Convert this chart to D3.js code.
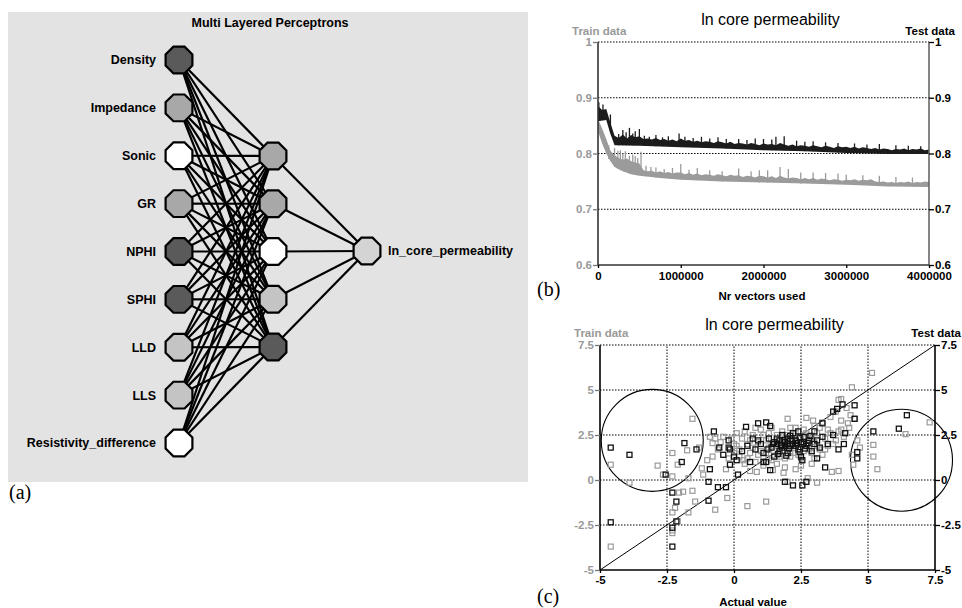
<!DOCTYPE html>
<html>
<head>
<meta charset="utf-8">
<script src="https://cdn.jsdelivr.net/npm/d3@7"></script>
<style>
  body { margin: 0; background: #fff; }
  svg { display: block; font-family: "Liberation Sans", Arial, sans-serif; }
</style>
</head>
<body>
<div id="fig"></div>
<script>
// ---------- data: network (a) ----------
const inputNodes = ['Density', 'Impedance', 'Sonic', 'GR', 'NPHI', 'SPHI', 'LLD', 'LLS', 'Resistivity_difference'];
const inputShades = ['dark', 'mid', 'white', 'mid', 'dark', 'dark', 'light', 'light', 'white'];
const hiddenNodes = ['h1', 'h2', 'h3', 'h4', 'h5'];
const hiddenShades = ['mid', 'mid', 'white', 'light', 'dark'];
const outputNodes = ['ln_core_permeability'];
const outputShades = ['pale'];

// ---------- data: training curve (b), x in thousands of vectors ----------
const vectorsK = d3.range(0, 4001, 50);
const testUpper = [.885, .878, .880, .855, .832, .828, .834, .827, .833, .829, .831, .826, .827, .825, .828, .824, .826, .823, .825, .822,
  .827, .823, .824, .821, .823, .820, .822, .821, .819, .822, .820, .818, .821, .817, .819, .818, .816, .819, .817, .815,
  .818, .816, .817, .815, .819, .816, .814, .816, .813, .815, .814, .812, .815, .813, .811, .814, .812, .810, .813, .811,
  .812, .810, .812, .809, .811, .810, .808, .810, .807, .809, .808, .806, .808, .807, .809, .806, .808, .807, .809, .806, .807];
const testLower = [[0, .858], [100, .860], [150, .835], [200, .815], [500, .814], [1000, .811], [1500, .809], [2000, .806],
  [2500, .804], [3000, .801], [3500, .799], [4000, .799]];
const trainUpper = [.862, .845, .826, .805, .797, .792, .789, .791, .786, .784, .782, .770, .768, .769, .766, .768, .765, .767, .764, .766,
  .766, .763, .765, .762, .764, .761, .763, .762, .760, .763, .761, .759, .762, .760, .761, .758, .760, .759, .757, .760,
  .759, .757, .759, .756, .760, .757, .755, .757, .756, .754, .756, .754, .756, .753, .755, .754, .752, .754, .753, .751,
  .753, .752, .754, .751, .753, .752, .754, .750, .749, .750, .748, .749, .747, .749, .748, .750, .747, .749, .748, .750, .749];
const trainLower = [[0, .840], [50, .818], [100, .800], [150, .786], [200, .776], [300, .768], [400, .763], [500, .760],
  [750, .756], [1000, .753], [1500, .750], [2000, .748], [2500, .746], [3000, .744], [3300, .742], [3500, .741], [4000, .740]];
const testSpikes = [[10, .892, .86], [60, .888, .86], [150, .870, .84], [250, .835, .815], [300, .842, .815], [340, .838, .815],
  [380, .846, .815], [420, .836, .815], [450, .840, .815], [500, .844, .815], [560, .832, .814], [620, .830, .814],
  [700, .833, .813], [780, .829, .813], [850, .831, .813], [980, .836, .812], [1050, .830, .812], [1150, .828, .811],
  [1250, .830, .811], [1350, .827, .810], [1450, .829, .810], [1550, .826, .809], [1700, .826, .808], [1800, .824, .808],
  [1900, .827, .807], [2000, .826, .806], [2100, .825, .806], [2150, .830, .806], [2250, .831, .806], [2400, .823, .805],
  [2500, .821, .804], [2600, .822, .804], [2750, .820, .803], [2900, .819, .802], [3100, .818, .802], [3250, .816, .801],
  [3400, .817, .800], [3600, .815, .800], [3750, .814, .800], [3900, .813, .800]];
const trainSpikes = [[130, .815, .79], [170, .800, .785], [200, .810, .777], [240, .805, .772], [270, .806, .770], [300, .800, .768],
  [330, .804, .767], [380, .796, .764], [420, .798, .763], [450, .795, .762], [480, .792, .761], [520, .803, .760],
  [580, .778, .759], [640, .776, .758], [700, .775, .757], [800, .772, .756], [900, .774, .755], [1000, .781, .754],
  [1100, .771, .753], [1200, .774, .752], [1350, .770, .751], [1500, .768, .750], [1700, .773, .750], [1850, .768, .749],
  [1950, .770, .748], [2050, .770, .748], [2200, .776, .748], [2300, .772, .747], [2450, .766, .746], [2600, .766, .746],
  [2750, .765, .745], [2900, .764, .745], [3000, .762, .745], [3200, .761, .744], [3400, .760, .743], [3600, .758, .742],
  [3800, .757, .741]];
const bTicksY = [0.6, 0.7, 0.8, 0.9, 1];
const bTicksX = [0, 1000000, 2000000, 3000000, 4000000];

// ---------- data: predicted vs actual (c) ----------
const trainPoints = [[-4.6, 0.85], [-4.6, -3.7], [-3.9, -0.15], [-2.85, 0.8], [-2.65, 0.3], [-2.3, 0.2], [-2.1, 0.85], [-2.2, -1.55],
  [-2.3, -1.8], [-2.3, -2.8], [-2.3, -2.95], [-2.1, -2.3], [-2.05, -0.7], [-1.9, -0.65], [-1.55, -0.6], [-1.7, -1.8], [-1.45, -1.2],
  [-1.7, 0.1], [-1.2, 0.65], [-1.15, 0.3], [-0.7, -1.65], [-0.25, -1.0], [0.5, -1.45], [1.2, -1.2], [-1.55, 3.4], [-2.3, 1.5],
  [-1.75, 1.65], [-0.8, 2.05], [-0.8, 1.3], [0.0, 1.5], [0.35, 1.1], [0.85, 0.45], [1.45, 0.55], [1.85, 0.4], [2.0, -0.1],
  [2.75, 0.1], [3.1, -0.15], [3.65, 0.45], [3.9, 0.5], [5.35, 0.6], [5.2, 1.3], [4.45, 0.85], [5.2, 1.95], [6.4, 2.55],
  [7.3, 3.2], [4.4, 5.15], [5.15, 5.95], [4.0, 4.5], [3.9, 4.45], [4.35, 3.6], [4.25, 3.15], [2.0, 3.4], [2.7, 3.45], [2.95, 3.3],
  [-1.0, 1.1], [-0.6, 1.7], [-0.4, 2.4], [-0.2, 1.2], [0.0, 2.0], [0.1, 2.6], [0.2, 1.7], [0.3, 2.3], [0.4, 0.9], [0.5, 2.0],
  [0.6, 1.5], [0.7, 2.5], [0.8, 1.0], [0.9, 2.1], [1.0, 1.6], [1.0, 2.8], [1.1, 1.3], [1.2, 2.2], [1.3, 1.8], [1.3, 2.6],
  [1.4, 1.1], [1.5, 2.0], [1.6, 2.5], [1.6, 1.4], [1.7, 1.9], [1.8, 2.7], [1.9, 1.2], [1.9, 2.3], [2.0, 1.8], [2.1, 2.9],
  [2.2, 1.5], [2.2, 2.1], [2.3, 2.6], [2.4, 1.7], [2.5, 2.3], [2.5, 1.2], [2.6, 2.8], [2.7, 1.9], [2.8, 2.4], [2.9, 1.5],
  [3.0, 3.0], [3.0, 2.1], [3.1, 2.6], [3.2, 1.7], [3.3, 3.2], [3.4, 2.3], [3.5, 2.8], [3.6, 3.5], [3.7, 2.0], [3.8, 3.8],
  [3.9, 2.7], [4.0, 3.3], [4.1, 2.4], [4.2, 4.0], [4.3, 2.9], [4.5, 3.4], [4.6, 2.2], [4.7, 1.8], [1.1, 0.8], [1.6, 0.9],
  [2.3, 0.6], [2.9, 0.9], [3.3, 1.4], [0.6, 0.5], [-0.3, 0.6], [1.5, 1.6], [2.0, 2.0], [2.4, 2.0], [1.8, 1.6], [0.2, 1.3],
  [-0.5, 2.1], [-1.3, 1.8], [-0.9, 2.4], [2.6, 1.6], [3.5, 1.9], [4.4, 1.4], [0.7, 1.8], [1.2, 1.5], [2.8, 1.7], [2.1, 1.3],
  [0.1, 1.9], [0.4, 2.7], [0.6, 2.2], [0.8, 2.9], [0.9, 1.4], [1.1, 2.5], [1.3, 1.2], [1.4, 2.9], [1.6, 2.2], [1.7, 1.3],
  [1.8, 2.1], [2.0, 2.5], [2.1, 1.6], [2.3, 2.9], [2.4, 1.4], [2.6, 2.1], [2.7, 2.6], [2.9, 2.3], [3.1, 1.9], [3.2, 2.9],
  [3.4, 1.7], [3.6, 2.6], [3.8, 2.2], [4.0, 2.8], [-0.7, 2.3], [-0.1, 2.3], [0.5, 1.2], [1.9, 0.7], [2.5, 0.8], [3.0, 1.2]];
const testPoints = [[-4.6, 1.8], [-3.9, 1.4], [-1.85, 2.05], [-1.4, 1.7], [-0.75, 2.7], [-0.55, 1.8], [-0.2, 2.2], [-0.15, 1.7],
  [0.45, 2.95], [0.9, 3.15], [1.2, 3.2], [1.35, 3.0], [3.3, 3.15], [3.7, 3.8], [3.85, 3.95], [4.05, 4.2], [4.5, 4.15], [4.5, 3.4],
  [4.15, 2.6], [5.2, 2.7], [6.15, 2.85], [6.45, 3.6], [4.6, 1.55], [4.6, 1.2], [-2.55, 0.3], [-2.3, -0.7], [-1.95, 1.0],
  [-2.15, -1.2], [-2.15, -2.3], [-2.3, -2.65], [-2.3, -3.7], [-4.6, -2.35], [-0.9, 0.6], [-0.95, -0.1], [-0.95, -1.15],
  [-0.6, -0.4], [-0.3, -0.4], [-0.15, 0.85], [0.15, 0.3], [1.1, 1.0], [1.35, 0.55], [1.9, -0.1], [2.2, -0.3], [2.55, -0.3],
  [2.7, -0.1], [3.4, 0.7], [2.55, 1.1], [3.1, 1.2], [0.3, 1.6], [0.5, 1.9], [0.8, 1.7], [1.0, 2.0], [1.1, 1.5], [1.3, 2.3],
  [1.4, 1.8], [1.5, 2.1], [1.6, 2.0], [1.7, 2.2], [1.7, 1.6], [1.8, 1.8], [1.8, 2.5], [1.9, 2.1], [2.0, 2.3], [2.0, 1.5],
  [2.1, 1.9], [2.2, 2.0], [2.2, 2.6], [2.3, 2.2], [2.4, 1.7], [2.4, 2.7], [2.5, 2.1], [2.6, 2.4], [2.7, 1.9], [2.8, 2.2],
  [2.9, 1.6], [3.0, 2.0], [3.2, 1.8], [3.5, 2.0], [3.7, 2.5], [3.9, 1.7], [4.1, 2.0], [0.7, 2.3], [-0.2, 1.8], [-0.4, 1.4],
  [0.1, 1.1], [1.2, 1.0], [2.5, 1.3], [1.5, 1.3], [0.0, 1.3], [0.6, 1.0], [3.3, 2.4], [3.0, 2.7], [2.0, 2.0], [1.9, 1.9],
  [2.3, 1.9], [2.6, 2.0], [1.6, 2.3], [1.75, 1.95], [1.85, 2.2], [2.05, 1.75], [2.15, 2.25], [2.35, 2.05], [2.45, 2.35],
  [2.65, 1.75], [2.75, 2.05], [1.45, 2.0], [1.25, 1.7], [0.9, 2.2], [2.1, 2.45], [2.85, 2.45], [3.1, 2.2], [1.95, 1.35],
  [2.45, 1.55], [1.65, 1.45]];
const idealLine = [[-5, -5], [7.5, 7.5]];
const outlierCircles = [[-3.05, 2.2], [6.25, 1.1]];
const cTicks = [-5, -2.5, 0, 2.5, 5, 7.5];

// ---------- svg ----------
const svg = d3.select('#fig').append('svg')
  .attr('width', 962)
  .attr('height', 608);

const shade = {dark: '#5a5a5a', mid: '#a8a8a8', light: '#c4c4c4', white: '#ffffff', pale: '#d4d4d4'};

// octagon shaped node
const octagon = function(r) {
  const pts = d3.range(8).map(k => {
    const a = (22.5 + 45 * k) * Math.PI / 180;
    return [r * Math.cos(a), r * Math.sin(a)];
  });
  return 'M' + pts.join('L') + 'Z';
};

// ---------- panel (a) ----------
const gA = svg.append('g');
gA.append('rect')
  .attr('x', 8).attr('y', 12)
  .attr('width', 520).attr('height', 470)
  .attr('fill', '#e3e3e3');

gA.append('text')
  .attr('x', 270).attr('y', 27)
  .attr('text-anchor', 'middle')
  .style('font-weight', 'bold')
  .style('font-size', '12.5px')
  .text('Multi Layered Perceptrons');

const layerX = d3.scalePoint().domain(['input', 'hidden', 'output']).range([179, 367]);
const inputY = d3.scalePoint().domain(inputNodes).range([60, 443]);
const hiddenY = d3.scalePoint().domain(hiddenNodes).range([156, 347]);
const outputY = d3.scalePoint().domain(outputNodes).range([251, 251]);

const links = [];
inputNodes.forEach(i => hiddenNodes.forEach(h => links.push([layerX('input'), inputY(i), layerX('hidden'), hiddenY(h)])));
hiddenNodes.forEach(h => outputNodes.forEach(o => links.push([layerX('hidden'), hiddenY(h), layerX('output'), outputY(o)])));

gA.selectAll('.link')
  .data(links)
  .enter()
  .append('line')
  .attr('x1', d => d[0]).attr('y1', d => d[1])
  .attr('x2', d => d[2]).attr('y2', d => d[3])
  .attr('stroke', '#000')
  .attr('stroke-width', 2.2);

const nodes = [].concat(
  inputNodes.map((n, i) => ({x: layerX('input'), y: inputY(n), fill: shade[inputShades[i]]})),
  hiddenNodes.map((n, i) => ({x: layerX('hidden'), y: hiddenY(n), fill: shade[hiddenShades[i]]})),
  outputNodes.map((n, i) => ({x: layerX('output'), y: outputY(n), fill: shade[outputShades[i]]}))
);

gA.selectAll('.node')
  .data(nodes)
  .enter()
  .append('path')
  .attr('transform', d => `translate(${d.x},${d.y})`)
  .attr('d', octagon(14.5))
  .attr('fill', d => d.fill)
  .attr('stroke', '#000')
  .attr('stroke-width', 2.2);

gA.selectAll('.inlabel')
  .data(inputNodes)
  .enter()
  .append('text')
  .attr('x', layerX('input') - 23)
  .attr('y', d => inputY(d))
  .attr('dy', '0.35em')
  .attr('text-anchor', 'end')
  .style('font-weight', 'bold')
  .style('font-size', '12.5px')
  .text(d => d);

gA.selectAll('.outlabel')
  .data(outputNodes)
  .enter()
  .append('text')
  .attr('x', layerX('output') + 21)
  .attr('y', d => outputY(d))
  .attr('dy', '0.35em')
  .style('font-weight', 'bold')
  .style('font-size', '12.5px')
  .text(d => d);

// panel letters
const letter = function(x, y, s) {
  svg.append('text')
    .attr('x', x).attr('y', y)
    .style('font-family', '"Liberation Serif", "Times New Roman", serif')
    .style('font-size', '20px')
    .text(s);
};
letter(9, 499, '(a)');
letter(537, 296, '(b)');
letter(537, 603, '(c)');

// shared axis styling
const styleAxis = function(g, color) {
  g.select('.domain').remove();
  g.selectAll('.tick line').attr('stroke', color === '#000' ? '#000' : '#777').attr('stroke-width', 1.3);
  g.selectAll('.tick text')
    .attr('fill', color)
    .style('font-family', '"Liberation Sans", Arial, sans-serif')
    .style('font-weight', 'bold')
    .style('font-size', '11.5px');
};

const panelHeader = function(g, left, right, titleY, subY, title) {
  g.append('text')
    .attr('x', (left + right) / 2 + 7).attr('y', titleY)
    .attr('text-anchor', 'middle')
    .style('font-size', '16px')
    .text(title);
  g.append('text')
    .attr('x', left - 26).attr('y', subY)
    .attr('fill', '#999')
    .style('font-weight', 'bold')
    .style('font-size', '11.5px')
    .text('Train data');
  g.append('text')
    .attr('x', right + 26).attr('y', subY)
    .attr('text-anchor', 'end')
    .style('font-weight', 'bold')
    .style('font-size', '11.5px')
    .text('Test data');
};

// ---------- panel (b) ----------
const gB = svg.append('g');
const xB = d3.scaleLinear().domain([0, 4000000]).range([598, 929]);
const yB = d3.scaleLinear().domain([0.6, 1]).range([265, 42]);

panelHeader(gB, 598, 929, 25, 35, 'ln core permeability');

gB.selectAll('.grid')
  .data(bTicksY.slice(1))
  .enter()
  .append('line')
  .attr('x1', xB(0)).attr('x2', xB(4000000))
  .attr('y1', d => yB(d)).attr('y2', d => yB(d))
  .attr('stroke', '#000')
  .attr('stroke-width', 1)
  .attr('stroke-dasharray', '1.5,1.5');

const band = function(upper, lower) {
  const pts = upper.map((v, i) => [vectorsK[i] * 1000, v])
    .concat(lower.slice().reverse().map(d => [d[0] * 1000, d[1]]));
  return d3.line().x(d => xB(d[0])).y(d => yB(d[1]))(pts) + 'Z';
};

gB.append('path')
  .attr('d', band(trainUpper, trainLower))
  .attr('fill', '#9b9b9b');
gB.selectAll('.tspike')
  .data(trainSpikes)
  .enter()
  .append('line')
  .attr('x1', d => xB(d[0] * 1000)).attr('x2', d => xB(d[0] * 1000))
  .attr('y1', d => yB(d[1])).attr('y2', d => yB(d[2]))
  .attr('stroke', '#9b9b9b')
  .attr('stroke-width', 1.3);

gB.append('path')
  .attr('d', band(testUpper, testLower))
  .attr('fill', '#1c1c1c');
gB.selectAll('.sspike')
  .data(testSpikes)
  .enter()
  .append('line')
  .attr('x1', d => xB(d[0] * 1000)).attr('x2', d => xB(d[0] * 1000))
  .attr('y1', d => yB(d[1])).attr('y2', d => yB(d[2]))
  .attr('stroke', '#1c1c1c')
  .attr('stroke-width', 1.3);

// frame lines
gB.append('line').attr('x1', xB(0)).attr('x2', xB(0)).attr('y1', yB(0.6)).attr('y2', yB(1))
  .attr('stroke', '#333').attr('stroke-width', 1.6);
gB.append('line').attr('x1', xB(4000000)).attr('x2', xB(4000000)).attr('y1', yB(0.6)).attr('y2', yB(1))
  .attr('stroke', '#666').attr('stroke-width', 1.6);
gB.append('line').attr('x1', xB(0)).attr('x2', xB(4000000)).attr('y1', yB(0.6)).attr('y2', yB(0.6))
  .attr('stroke', '#333').attr('stroke-width', 1.6);

gB.append('g')
  .attr('transform', `translate(${xB(0)},0)`)
  .call(d3.axisLeft(yB).tickValues(bTicksY).tickFormat(d => String(d)).tickSize(5).tickPadding(1))
  .call(g => styleAxis(g, '#999'));
gB.append('g')
  .attr('transform', `translate(${xB(4000000)},0)`)
  .call(d3.axisRight(yB).tickValues(bTicksY).tickFormat(d => String(d)).tickSize(5).tickPadding(1))
  .call(g => styleAxis(g, '#000'));
gB.append('g')
  .attr('transform', `translate(0,${yB(0.6)})`)
  .call(d3.axisBottom(xB).tickValues(bTicksX).tickFormat(d3.format('d')).tickSize(3).tickPadding(4))
  .call(g => styleAxis(g, '#000'));

gB.append('text')
  .attr('x', 762).attr('y', 300)
  .attr('text-anchor', 'middle')
  .style('font-weight', 'bold')
  .style('font-size', '11.5px')
  .text('Nr vectors used');

// ---------- panel (c) ----------
const gC = svg.append('g');
const xC = d3.scaleLinear().domain([-5, 7.5]).range([600, 935]);
const yC = d3.scaleLinear().domain([-5, 7.5]).range([570, 345]);

panelHeader(gC, 600, 935, 330, 337, 'ln core permeability');

gC.selectAll('.hgrid')
  .data(cTicks.slice(1))
  .enter()
  .append('line')
  .attr('x1', xC(-5)).attr('x2', xC(7.5))
  .attr('y1', d => yC(d)).attr('y2', d => yC(d))
  .attr('stroke', '#000')
  .attr('stroke-dasharray', '1.5,1.5');
gC.selectAll('.vgrid')
  .data(cTicks.slice(1, -1))
  .enter()
  .append('line')
  .attr('x1', d => xC(d)).attr('x2', d => xC(d))
  .attr('y1', yC(-5)).attr('y2', yC(7.5))
  .attr('stroke', '#000')
  .attr('stroke-dasharray', '1.5,1.5');

gC.append('path')
  .attr('d', d3.line().x(d => xC(d[0])).y(d => yC(d[1]))(idealLine))
  .attr('stroke', '#000')
  .attr('stroke-width', 1)
  .attr('fill', 'none');

gC.selectAll('.ring')
  .data(outlierCircles)
  .enter()
  .append('circle')
  .attr('cx', d => xC(d[0]))
  .attr('cy', d => yC(d[1]))
  .attr('r', 51)
  .attr('fill', 'none')
  .attr('stroke', '#000')
  .attr('stroke-width', 1.1);

gC.selectAll('.train')
  .data(trainPoints)
  .enter()
  .append('rect')
  .attr('x', d => xC(d[0]) - 2.5)
  .attr('y', d => yC(d[1]) - 2.5)
  .attr('width', 5).attr('height', 5)
  .attr('fill', 'none')
  .attr('stroke', '#9a9a9a')
  .attr('stroke-width', 1.2);

gC.selectAll('.test')
  .data(testPoints)
  .enter()
  .append('rect')
  .attr('x', d => xC(d[0]) - 2.5)
  .attr('y', d => yC(d[1]) - 2.5)
  .attr('width', 5).attr('height', 5)
  .attr('fill', 'none')
  .attr('stroke', '#111')
  .attr('stroke-width', 1.3);

gC.append('line').attr('x1', xC(-5)).attr('x2', xC(-5)).attr('y1', yC(-5)).attr('y2', yC(7.5))
  .attr('stroke', '#000').attr('stroke-width', 1.6);
gC.append('line').attr('x1', xC(7.5)).attr('x2', xC(7.5)).attr('y1', yC(-5)).attr('y2', yC(7.5))
  .attr('stroke', '#000').attr('stroke-width', 1.6);
gC.append('line').attr('x1', xC(-5)).attr('x2', xC(7.5)).attr('y1', yC(-5)).attr('y2', yC(-5))
  .attr('stroke', '#000').attr('stroke-width', 1.6);

gC.append('g')
  .attr('transform', `translate(${xC(-5)},0)`)
  .call(d3.axisLeft(yC).tickValues(cTicks).tickFormat(d => String(d)).tickSize(5).tickPadding(1))
  .call(g => styleAxis(g, '#999'));
gC.append('g')
  .attr('transform', `translate(${xC(7.5)},0)`)
  .call(d3.axisRight(yC).tickValues(cTicks).tickFormat(d => String(d)).tickSize(5).tickPadding(1))
  .call(g => styleAxis(g, '#000'));
gC.append('g')
  .attr('transform', `translate(0,${yC(-5)})`)
  .call(d3.axisBottom(xC).tickValues(cTicks).tickFormat(d => String(d)).tickSize(3).tickPadding(3))
  .call(g => styleAxis(g, '#000'));

gC.append('text')
  .attr('x', 753).attr('y', 606)
  .attr('text-anchor', 'middle')
  .style('font-weight', 'bold')
  .style('font-size', '11.5px')
  .text('Actual value');
</script>
</body>
</html>
